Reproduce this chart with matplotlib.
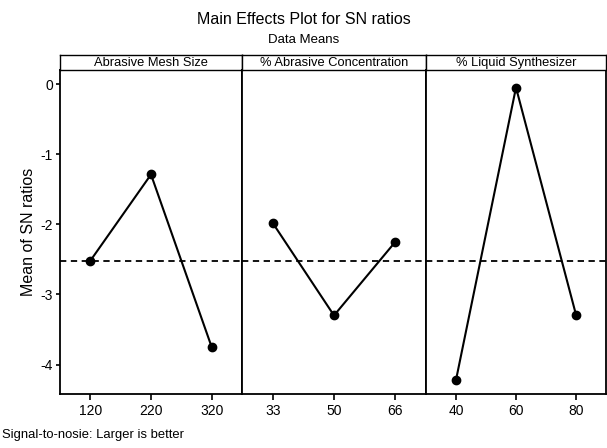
import matplotlib
matplotlib.use('Agg')
from matplotlib import pyplot as plt

plt.rcParams['font.family'] = ['Liberation Sans', 'DejaVu Sans']

factors = ['Abrasive Mesh Size', '% Abrasive Concentration', '% Liquid Synthesizer']
levels = [['120', '220', '320'], ['33', '50', '66'], ['40', '60', '80']]
mesh_sn = [-2.52, -1.29, -3.75]
conc_sn = [-1.98, -3.30, -2.25]
liquid_sn = [-4.22, -0.05, -3.29]
grand_mean = -2.52

means = [mesh_sn, conc_sn, liquid_sn]

W, H = 607, 448
fig = plt.figure(figsize=(W / 100, H / 100), dpi=100)

left, right = 60, 606
bottom, top = 394, 70
strip_top = 55
edges = [left, 242, 426, right]

for i in range(3):
    x0 = edges[i] / W
    w = (edges[i + 1] - edges[i]) / W
    ax = fig.add_axes([x0, 1 - bottom / H, w, (bottom - top) / H])
    pos = [1, 2, 3]
    ax.plot(pos, means[i], '-o', color='black', lw=1.5, ms=6)
    ax.axhline(grand_mean, color='black', lw=1.3, ls=(0, (3.5, 2.5)))
    ax.set_xlim(0.5, 3.5)
    ax.set_ylim(-4.42, 0.2)
    ax.set_xticks(pos)
    ax.set_xticklabels(levels[i], fontsize=10)
    ax.tick_params(axis='x', direction='out', length=4, width=1.2, pad=3)
    if i == 0:
        ax.set_yticks([0, -1, -2, -3, -4])
        ax.set_yticklabels(['0', '-1', '-2', '-3', '-4'], fontsize=10)
        ax.tick_params(axis='y', direction='out', length=3, width=1.2, pad=2)
        ax.set_ylabel('Mean of SN ratios', fontsize=11.5, labelpad=3)
    else:
        ax.set_yticks([])
    for s in ax.spines.values():
        s.set_linewidth(1.3)

    # header strip
    hx = fig.add_axes([x0, 1 - top / H, w, (top - strip_top) / H])
    hx.set_xticks([])
    hx.set_yticks([])
    for s in hx.spines.values():
        s.set_linewidth(1.0)
    hx.text(0.5, 0.45, factors[i], ha='center', va='center', fontsize=9.3,
            transform=hx.transAxes)

fig.text(0.5, 1 - 20 / H, 'Main Effects Plot for SN ratios', ha='center',
         va='center', fontsize=11.5)
fig.text(0.5, 1 - 40 / H, 'Data Means', ha='center', va='center', fontsize=9.5)
fig.text(2 / W, 1 - 435 / H, 'Signal-to-nosie: Larger is better',
         ha='left', va='center', fontsize=9.4)

fig.savefig('out.png', dpi=100)
